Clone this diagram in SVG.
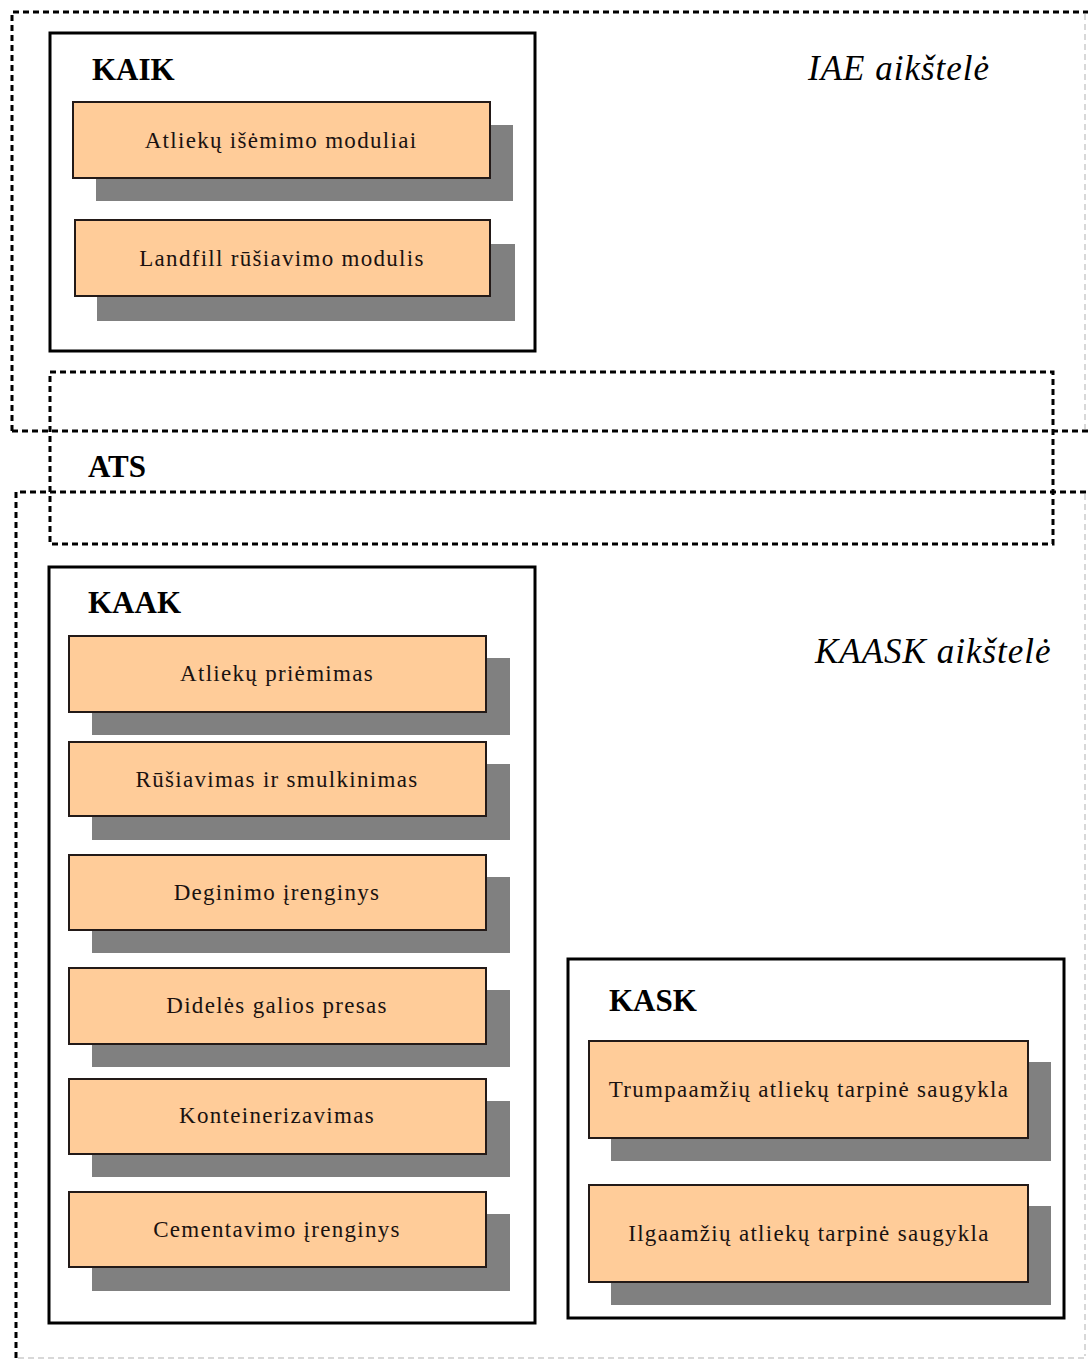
<svg xmlns="http://www.w3.org/2000/svg" width="1088" height="1360" viewBox="0 0 1088 1360">
<style>
.dash{fill:none;stroke:#000;stroke-width:3;stroke-dasharray:6 4}
.faint{fill:none;stroke:#d8d8d8;stroke-width:2;stroke-dasharray:6 4}
.frame{fill:#fff;stroke:#000;stroke-width:3}
.box{fill:#FFCC99;stroke:#231a18;stroke-width:2}
.sh{fill:#808080}
.lbl{font-family:"Liberation Serif",serif;font-size:23px;letter-spacing:1.3px;fill:#1a1210;text-anchor:middle}
.hd{font-family:"Liberation Serif",serif;font-size:31px;font-weight:bold;fill:#000}
.it{font-family:"Liberation Serif",serif;font-size:35px;letter-spacing:1px;font-style:italic;fill:#000}
</style>
<rect width="1088" height="1360" fill="#fff"/>
<g id="connectors">
</g>
<g id="iae-site">
<path class="dash" d="M12,431 V12 H1088"/>
<path class="dash" d="M12,431 H1088"/>
<path class="faint" d="M1085,14 V429"/>
<text class="it" x="808" y="80">IAE aikštelė</text>
</g>
<g id="kaask-site">
<path class="dash" d="M16,1358 V492 H1088"/>
<path class="faint" d="M18,1358 H1088"/>
<path class="faint" d="M1085,494 V1356"/>
<text class="it" x="815" y="663">KAASK aikštelė</text>
</g>
<g id="ats">
<rect class="dash" x="50" y="372" width="1003" height="172"/>
<text class="hd" x="88" y="477">ATS</text>
</g>
<g id="kaik">
<rect class="frame" x="50" y="33" width="485" height="318"/>
<text class="hd" x="92" y="80">KAIK</text>
</g>
<g id="n-atliekuisemimo">
<rect class="sh" x="96" y="125" width="417" height="76"/>
<rect class="box" x="73" y="102" width="417" height="76"/>
<text class="lbl" x="281" y="148">Atliekų išėmimo moduliai</text>
</g>
<g id="n-landfill">
<rect class="sh" x="97" y="244" width="418" height="77"/>
<rect class="box" x="75" y="220" width="415" height="76"/>
<text class="lbl" x="282" y="266">Landfill rūšiavimo modulis</text>
</g>
<g id="kaak">
<rect class="frame" x="49" y="567" width="486" height="756"/>
<text class="hd" x="88" y="613">KAAK</text>
</g>
<g id="n-priemimas">
<rect class="sh" x="92" y="658" width="418" height="77"/>
<rect class="box" x="69" y="636" width="417" height="76"/>
<text class="lbl" x="277" y="681">Atliekų priėmimas</text>
</g>
<g id="n-rusiavimas">
<rect class="sh" x="92" y="764" width="418" height="76"/>
<rect class="box" x="69" y="742" width="417" height="74"/>
<text class="lbl" x="277" y="787">Rūšiavimas ir smulkinimas</text>
</g>
<g id="n-deginimo">
<rect class="sh" x="92" y="877" width="418" height="76"/>
<rect class="box" x="69" y="855" width="417" height="75"/>
<text class="lbl" x="277" y="900">Deginimo įrenginys</text>
</g>
<g id="n-presas">
<rect class="sh" x="92" y="990" width="418" height="77"/>
<rect class="box" x="69" y="968" width="417" height="76"/>
<text class="lbl" x="277" y="1013">Didelės galios presas</text>
</g>
<g id="n-konteinerizavimas">
<rect class="sh" x="92" y="1101" width="418" height="76"/>
<rect class="box" x="69" y="1079" width="417" height="75"/>
<text class="lbl" x="277" y="1123">Konteinerizavimas</text>
</g>
<g id="n-cementavimo">
<rect class="sh" x="92" y="1214" width="418" height="77"/>
<rect class="box" x="69" y="1192" width="417" height="75"/>
<text class="lbl" x="277" y="1237">Cementavimo įrenginys</text>
</g>
<g id="kask">
<rect class="frame" x="568" y="959" width="496" height="359"/>
<text class="hd" x="609" y="1011">KASK</text>
</g>
<g id="n-trumpaamziu">
<rect class="sh" x="611" y="1062" width="440" height="99"/>
<rect class="box" x="589" y="1041" width="439" height="97"/>
<text class="lbl" x="809" y="1097">Trumpaamžių atliekų tarpinė saugykla</text>
</g>
<g id="n-ilgaamziu">
<rect class="sh" x="611" y="1206" width="440" height="99"/>
<rect class="box" x="589" y="1185" width="439" height="97"/>
<text class="lbl" x="809" y="1241">Ilgaamžių atliekų tarpinė saugykla</text>
</g>
</svg>
